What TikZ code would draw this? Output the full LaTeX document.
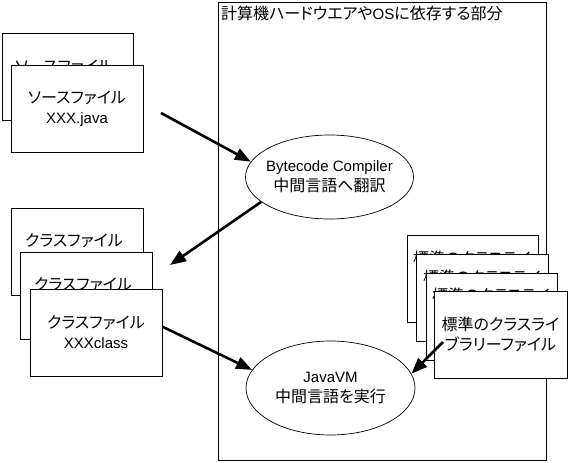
\documentclass[tikz,border=0pt]{standalone}
\usepackage{fontspec}
\setmainfont{Liberation Sans}
\newfontfamily\jp[RawFeature=+palt]{Noto Sans CJK JP}
\usetikzlibrary{arrows.meta,shapes.geometric}
\newcommand\J[1]{{\jp\fontsize{16}{20}\selectfont #1}}
\begin{document}
\begin{tikzpicture}[x=1pt,y=-1pt,
  filebox/.style={draw, line width=0.8pt, fill=white, minimum width=132pt, minimum height=87pt, inner sep=0pt, align=center, font=\fontsize{15}{20}\selectfont},
  ell/.style={draw, ellipse, line width=0.7pt, fill=white, inner sep=0pt},
  lbl/.style={inner sep=0pt, align=center, font=\fontsize{15}{20}\selectfont},
  flow/.style={line width=2.6pt, -{Triangle[length=16pt,width=12pt]}}]
\useasboundingbox (0,0) rectangle (568,463);
% hardware dependent area
\node[draw, line width=0.8pt, minimum width=328pt, minimum height=458pt, inner sep=0pt, anchor=north west] (hw) at (218,2) {};
\node[lbl, anchor=west] (title) at (221,13) {\J{計算機ハードウエアや}OS\J{に依存する部分}};
% source files
\node[filebox, minimum width=131pt] (src1) at (67.5,76.5) {};
\node[lbl] (src1t) at (64,67) {\J{ソースファイル}};
\node[filebox] (src2) at (77,109) {\J{ソースファイル}\\XXX.java};
% class files
\node[filebox] (cls1) at (77,252) {};
\node[lbl] (cls1t) at (74,241) {\J{クラスファイル}};
\node[filebox, minimum height=87pt] (cls2) at (86,295.5) {};
\node[lbl] (cls2t) at (83,284.5) {\J{クラスファイル}};
\node[filebox] (cls3) at (96,332.5) {\J{クラスファイル}\\XXXclass};
% ellipses
\node[ell, minimum width=168pt, minimum height=84pt] (bc) at (329.5,177) {};
\node[lbl] (bct) at (bc) {Bytecode Compiler\\\J{中間言語へ翻訳}};
\node[ell, minimum width=169pt, minimum height=94pt] (vm) at (330.5,388) {};
\node[lbl] (vmt) at (vm) {JavaVM\\\J{中間言語を実行}};
% library files
\node[filebox, minimum width=131pt] (lib1) at (472.5,278.5) {};
\node[lbl] (lib1t) at (472,258) {\J{標準のクラスライ}};
\node[filebox] (lib2) at (482,298) {};
\node[lbl] (lib2t) at (482,277) {\J{標準のクラスライ}};
\node[filebox, minimum width=131pt] (lib3) at (491.5,317) {};
\node[lbl] (lib3t) at (491,295) {\J{標準のクラスライ}};
\node[filebox, minimum width=133pt] (lib4) at (500.5,334.5) {\J{標準のクラスライ}\\\J{ブラリーファイル}};
% arrows
\coordinate (a1s) at (161,113);
\coordinate (a2e) at (170,265);
\coordinate (a4s) at (443,342);
\draw[flow] (a1s) -- (bc.169);
\draw[flow] (bc.200) -- (a2e);
\draw[flow] (cls3.5) -- (vm.167);
\draw[flow] (a4s) -- (vm.10);
\end{tikzpicture}
\end{document}
